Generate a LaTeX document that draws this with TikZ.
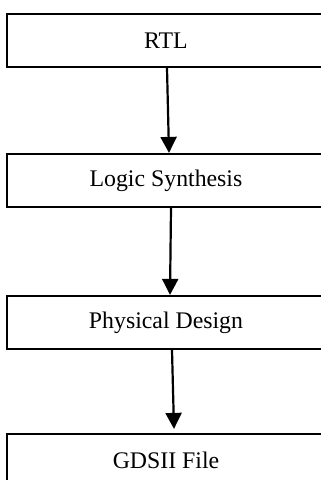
\documentclass[tikz,border=0pt]{standalone}
\usepackage{fontspec}
\setmainfont{Liberation Serif}
\usetikzlibrary{arrows.meta}
\begin{document}
\begin{tikzpicture}[x=1pt,y=-1pt,
  stepbox/.style={draw=black,line width=2.2pt,minimum width=318pt,minimum height=53pt,inner sep=0pt,font=\fontsize{23.8}{26}\selectfont,fill=white},
  arr/.style={line width=2.2pt,-{Triangle[width=16pt,length=16pt]}}]
\useasboundingbox (0,0) rectangle (321,480);
\clip (0,0) rectangle (321,480);
\fill[white] (0,0) rectangle (321,480);
\node[stepbox] (rtl) at (166,40.5) {RTL};
\node[stepbox] (ls) at (166,180.5) {Logic Synthesis};
\node[stepbox] (pd) at (166,322.5) {Physical Design};
\node[stepbox] (gds) at (166,460.5) {GDSII File};
\draw[arr] ([xshift=1pt]rtl.south) -- ([xshift=3pt]ls.north);
\draw[arr] ([xshift=5pt]ls.south) -- ([xshift=4pt]pd.north);
\draw[arr] ([xshift=6pt]pd.south) -- ([xshift=8pt,yshift=4pt]gds.north);
\end{tikzpicture}
\end{document}
